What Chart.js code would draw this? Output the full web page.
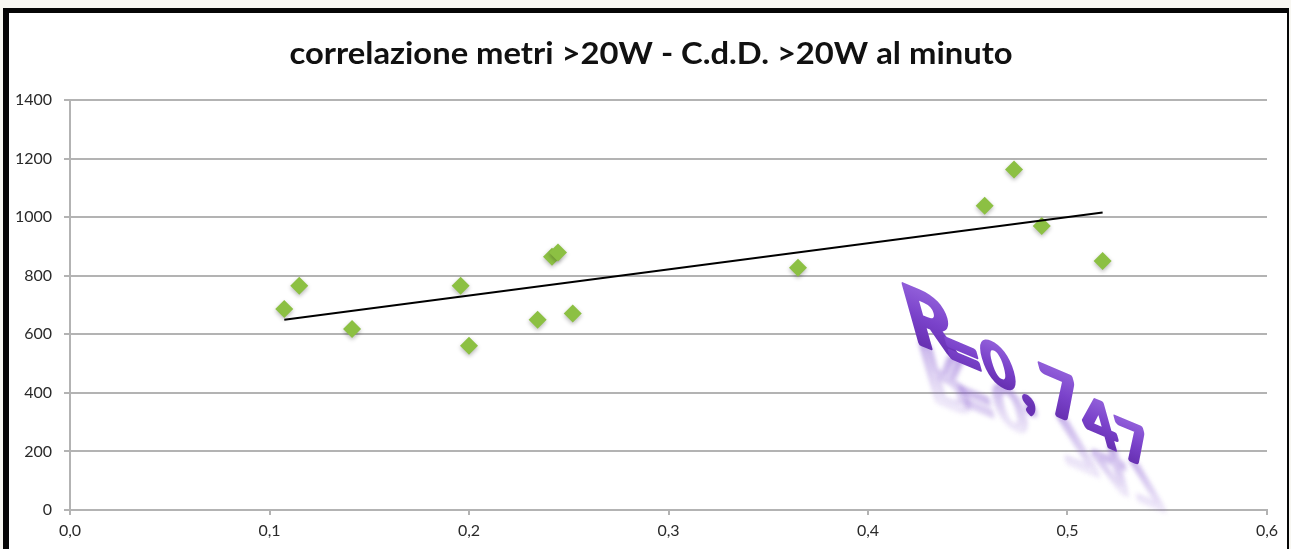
<!DOCTYPE html>
<html>
<head>
<meta charset="utf-8">
<script src="https://cdn.jsdelivr.net/npm/chart.js@4.4.1/dist/chart.umd.min.js"></script>
<style>
  html, body { margin: 0; padding: 0; background: #f8f7f2; overflow: hidden; }
  canvas { display: block; }
</style>
</head>
<body>
<canvas id="chart" width="1291" height="549"></canvas>
<script>
// Metres above 20W per minute (x) against C.d.D. above 20W (y)
const metriX = [0.1074, 0.1149, 0.1414, 0.1958, 0.2000, 0.2344, 0.2416, 0.2446, 0.2520, 0.3649, 0.4585, 0.4732, 0.4871, 0.5176];
const cddY   = [686, 766, 618, 766, 561, 650, 865, 879, 671, 827, 1039, 1163, 970, 850];

// Linear trend line end points
const trendX = [0.1074, 0.5176];
const trendY = [650, 1016];

// Axis tick labels (Italian decimal comma)
const xTickLabels = ['0,0', '0,1', '0,2', '0,3', '0,4', '0,5', '0,6'];
const yTickLabels = ['0', '200', '400', '600', '800', '1000', '1200', '1400'];

const titleText = 'correlazione metri >20W - C.d.D. >20W al minuto';

// Word-art glyph placement: centre and on-screen height of each character
const rGlyphs = [
  { ch: 'R', cx: 933,  cy: 323, h: 76 },
  { ch: '=', cx: 963,  cy: 354 },
  { ch: '0', cx: 998,  cy: 365, h: 57 },
  { ch: ',', cx: 1030, cy: 406 },
  { ch: '7', cx: 1062, cy: 395, h: 64 },
  { ch: '4', cx: 1098, cy: 422, h: 60 },
  { ch: '7', cx: 1134, cy: 443, h: 54 }
];
// Shared slant of the word art: baseline direction and stem lean
const ART = { a: 0.9, b: 0.38, c: 0.28, d: 1 };

const scatterPoints = metriX.map((x, i) => ({ x: x, y: cddY[i] }));
const trendPoints = trendX.map((x, i) => ({ x: x, y: trendY[i] }));

const GRID = '#b3b3b3';
const TICK_FONT = { family: 'Lato, "Open Sans", sans-serif', size: 16 };

// Page frame, background and title
const framePlugin = {
  id: 'frame',
  beforeDraw(chart) {
    const ctx = chart.ctx, w = chart.width, h = chart.height;
    ctx.save();
    ctx.fillStyle = '#f8f7f2';
    ctx.fillRect(0, 0, w, h);
    ctx.fillStyle = '#ffffff';
    ctx.fillRect(3, 8, w - 5, h - 8);
    ctx.fillStyle = '#060606';
    ctx.fillRect(3, 8, w - 5, 5);
    ctx.fillRect(3, 8, 6, h - 8);
    ctx.fillRect(w - 4, 8, 2, h - 8);

    ctx.font = 'bold 31px Lato, "Open Sans", sans-serif';
    ctx.fillStyle = '#111111';
    ctx.textAlign = 'center';
    ctx.textBaseline = 'alphabetic';
    const tw = ctx.measureText(titleText).width;
    ctx.translate(651, 64);
    ctx.scale(723 / tw, 1);
    ctx.fillText(titleText, 0, 0);
    ctx.restore();
  }
};

// Soft drop shadow under the diamond markers
const shadowPlugin = {
  id: 'markerShadow',
  beforeDatasetDraw(chart, args) {
    if (args.index !== 0) return;
    const ctx = chart.ctx;
    ctx.save();
    ctx.shadowColor = 'rgba(0,0,0,0.28)';
    ctx.shadowBlur = 4;
    ctx.shadowOffsetX = 0;
    ctx.shadowOffsetY = 2;
  },
  afterDatasetDraw(chart, args) {
    if (args.index !== 0) return;
    chart.ctx.restore();
  }
};

// Slanted purple "R=0,747" word art with a fading reflection
const wordArtPlugin = {
  id: 'wordArt',
  afterDraw(chart) {
    const ctx = chart.ctx;
    const size = 100;
    ctx.save();
    ctx.font = 'bold ' + size + 'px Lato, "Open Sans", sans-serif';
    ctx.textAlign = 'left';
    ctx.textBaseline = 'alphabetic';

    const items = rGlyphs.map(g => {
      const m = ctx.measureText(g.ch);
      const box = {
        l: -m.actualBoundingBoxLeft, r: m.actualBoundingBoxRight,
        t: -m.actualBoundingBoxAscent, b: m.actualBoundingBoxDescent
      };
      const ys = [[box.l, box.t], [box.r, box.t], [box.l, box.b], [box.r, box.b]]
        .map(p => ART.b * p[0] + ART.d * p[1]);
      const vy = Math.max(...ys) - Math.min(...ys);
      return { g, box, k: g.h ? g.h / vy : null };
    });
    items.forEach((it, i) => {
      if (it.k === null) {
        it.k = (items[i - 1].k + items[i + 1].k) / 2;
      }
    });

    // reflections first, so that no glyph is veiled by a neighbour's reflection
    items.forEach(it => {
      const { g, box, k } = it;
      const lx = (box.l + box.r) / 2, ly = (box.t + box.b) / 2;
      it.e = g.cx - k * (ART.a * lx + ART.c * ly);
      it.f = g.cy - k * (ART.b * lx + ART.d * ly);
      ctx.save();
      ctx.transform(k * ART.a, k * ART.b, k * ART.c, k * ART.d, it.e, it.f);
      ctx.scale(1, -1);
      ctx.filter = 'blur(2px)';
      const rg = ctx.createLinearGradient(0, 0, 0, -size * 0.95);
      rg.addColorStop(0, 'rgba(135, 90, 210, 0.38)');
      rg.addColorStop(1, 'rgba(135, 90, 210, 0)');
      ctx.fillStyle = rg;
      ctx.strokeStyle = rg;
      ctx.lineWidth = 6;
      ctx.lineJoin = 'round';
      ctx.strokeText(g.ch, 0, 0);
      ctx.fillText(g.ch, 0, 0);
      ctx.restore();
    });

    items.forEach(it => {
      const { g, k } = it;
      ctx.save();
      ctx.transform(k * ART.a, k * ART.b, k * ART.c, k * ART.d, it.e, it.f);
      const grad = ctx.createLinearGradient(0, -size * 0.72, 0, 0);
      grad.addColorStop(0, '#8f5cd8');
      grad.addColorStop(0.5, '#7a42ca');
      grad.addColorStop(1, '#6831b3');
      ctx.fillStyle = grad;
      ctx.strokeStyle = grad;
      ctx.lineWidth = 6;
      ctx.lineJoin = 'round';
      ctx.strokeText(g.ch, 0, 0);
      ctx.fillText(g.ch, 0, 0);
      ctx.restore();
    });
    ctx.restore();
  }
};

new Chart(document.getElementById('chart'), {
  type: 'scatter',
  data: {
    datasets: [
      {
        type: 'scatter',
        label: 'C.d.D.',
        data: scatterPoints,
        order: 1,
        pointStyle: 'rectRot',
        pointRadius: 9,
        pointHoverRadius: 9,
        pointBackgroundColor: '#8cc043',
        pointBorderWidth: 0,
        borderWidth: 0
      },
      {
        type: 'line',
        label: 'tendenza',
        data: trendPoints,
        order: 0,
        borderColor: '#000000',
        borderWidth: 2,
        pointRadius: 0,
        fill: false,
        showLine: true
      }
    ]
  },
  options: {
    responsive: false,
    animation: false,
    devicePixelRatio: 1,
    layout: { padding: { left: 0, right: 24, top: 100, bottom: 0 } },
    plugins: {
      legend: { display: false },
      title: { display: false },
      tooltip: { enabled: false }
    },
    scales: {
      x: {
        type: 'linear',
        min: 0,
        max: 0.6,
        afterFit(scale) { scale.height = 39; },
        ticks: {
          stepSize: 0.1,
          color: '#2a2a2a',
          font: TICK_FONT,
          padding: 6,
          maxRotation: 0,
          callback: (v, i) => xTickLabels[i]
        },
        grid: {
          drawOnChartArea: false,
          drawTicks: true,
          tickLength: 5,
          color: GRID,
          lineWidth: 2
        },
        border: { display: true, color: GRID, width: 2 }
      },
      y: {
        type: 'linear',
        min: 0,
        max: 1400,
        afterFit(scale) { scale.width = 70; },
        ticks: {
          stepSize: 200,
          color: '#2a2a2a',
          font: TICK_FONT,
          padding: 12,
          callback: (v, i) => yTickLabels[i]
        },
        grid: {
          drawOnChartArea: true,
          drawTicks: true,
          tickLength: 6,
          color: GRID,
          lineWidth: 2
        },
        border: { display: true, color: GRID, width: 2 }
      }
    }
  },
  plugins: [framePlugin, shadowPlugin, wordArtPlugin]
});
</script>
</body>
</html>
